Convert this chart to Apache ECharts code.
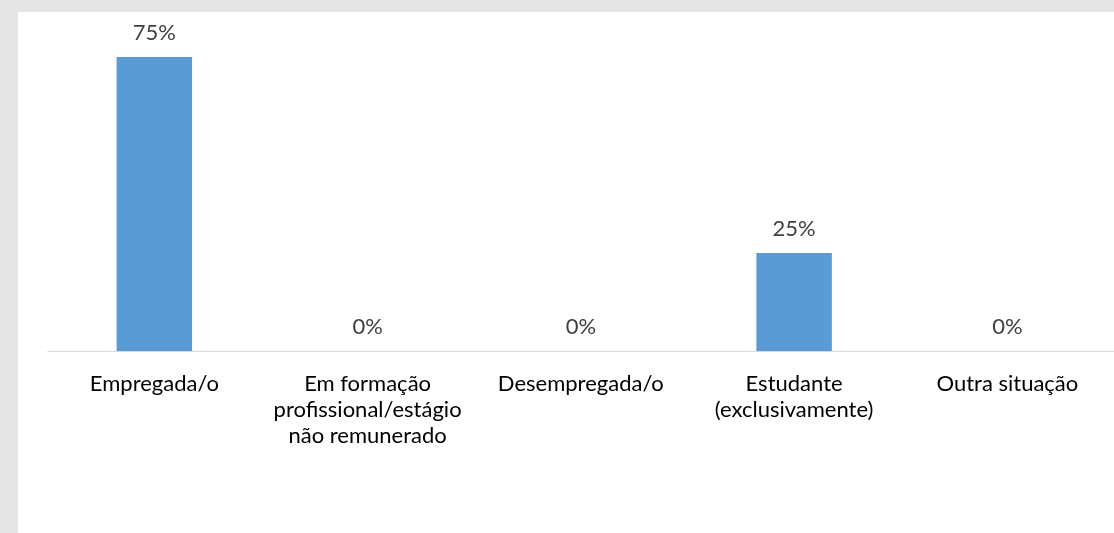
<!DOCTYPE html>
<html>
<head>
<meta charset="utf-8">
<script src="https://cdn.jsdelivr.net/npm/echarts@6/dist/echarts.min.js"></script>
<style>
  html, body { margin: 0; padding: 0; width: 1114px; height: 533px; background: #e5e5e5; overflow: hidden; }
  #chart { position: absolute; left: 18px; top: 12px; width: 1096px; height: 521px; background: #ffffff; }
</style>
</head>
<body>
<div id="chart"></div>
<script>
const categories = [
  "Empregada/o",
  "Em formação\nprofissional/estágio\nnão remunerado",
  "Desempregada/o",
  "Estudante\n(exclusivamente)",
  "Outra situação"
];
const values = [75, 0, 0, 25, 0];

const chart = echarts.init(document.getElementById('chart'), null, { renderer: 'canvas' });
chart.setOption({
  animation: false,
  backgroundColor: '#ffffff',
  grid: { left: 29.7, width: 1073.5, top: 25.4, height: 313.6 },
  xAxis: {
    type: 'category',
    data: categories,
    axisLine: { show: true, lineStyle: { color: '#d9d9d9', width: 1 } },
    axisTick: { show: false },
    axisLabel: {
      interval: 0,
      color: '#000000',
      fontFamily: 'Lato',
      fontSize: 22,
      lineHeight: 26,
      margin: 20
    }
  },
  yAxis: {
    type: 'value',
    min: 0,
    max: 80,
    show: false,
    splitLine: { show: false }
  },
  series: [{
    type: 'bar',
    data: values,
    barWidth: '35.4%',
    itemStyle: { color: '#5b9bd5' },
    label: {
      show: true,
      position: 'top',
      distance: 13,
      color: '#404040',
      fontFamily: 'Lato',
      fontSize: 22,
      formatter: p => p.value + '%'
    }
  }]
});
</script>
</body>
</html>
